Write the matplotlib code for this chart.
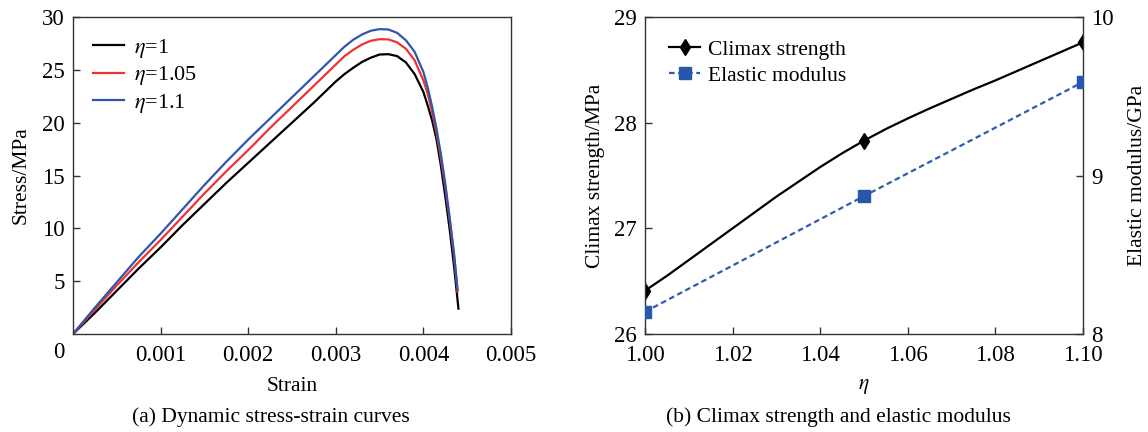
import matplotlib
matplotlib.use("Agg")
import matplotlib.pyplot as plt

plt.rcParams['font.family'] = ['Liberation Serif', 'DejaVu Serif']
plt.rcParams['mathtext.fontset'] = 'stix'
plt.rcParams['font.size'] = 15.5

# (a) dynamic stress-strain curves
strain = [0, 0.00025, 0.0005, 0.00075, 0.001, 0.00125, 0.0015, 0.00175, 0.002,
          0.00225, 0.0025, 0.00275, 0.003, 0.0031, 0.0032, 0.0033, 0.0034,
          0.0035, 0.0036, 0.0037, 0.0038, 0.0039, 0.004, 0.00405, 0.0041,
          0.00415, 0.0042, 0.00425, 0.0043, 0.00435]
stress_10 = [0, 2.0, 4.1, 6.2, 8.2, 10.3, 12.3, 14.3, 16.2, 18.1, 20.0, 21.9,
             23.9, 24.6, 25.2, 25.75, 26.15, 26.45, 26.48, 26.3, 25.7, 24.6,
             22.9, 21.6, 20.2, 18.4, 15.9, 13.0, 9.9, 6.4]
stress_105 = [0, 2.3, 4.6, 6.8, 8.9, 11.1, 13.3, 15.4, 17.4, 19.5, 21.5, 23.5,
              25.5, 26.3, 26.9, 27.4, 27.75, 27.9, 27.88, 27.6, 27.0, 25.9,
              24.0, 22.7, 21.0, 19.0, 16.6, 13.9, 10.8, 7.4]
stress_11 = [0, 2.5, 4.9, 7.3, 9.5, 11.8, 14.1, 16.3, 18.4, 20.4, 22.4, 24.4,
             26.4, 27.2, 27.85, 28.35, 28.7, 28.85, 28.82, 28.5, 27.8, 26.7,
             24.8, 23.3, 21.5, 19.4, 17.0, 14.2, 11.0, 7.6]
end_strain = [0.0044, 0.00439, 0.00439]
end_stress = [2.4, 4.0, 4.2]

# (b) climax strength and elastic modulus
eta = [1.00, 1.05, 1.10]
climax = [26.41, 27.83, 28.76]
modulus = [8.14, 8.87, 9.59]
# smoothed trend through the climax strength points
eta_trend = [1.00, 1.005, 1.01, 1.015, 1.02, 1.025, 1.03, 1.035, 1.04, 1.045,
             1.05, 1.055, 1.06, 1.065, 1.07, 1.075, 1.08, 1.085, 1.09, 1.095,
             1.10]
climax_trend = [26.41, 26.55, 26.70, 26.85, 27.00, 27.15, 27.30, 27.44, 27.58,
                27.71, 27.83, 27.94, 28.04, 28.135, 28.225, 28.315, 28.40,
                28.49, 28.58, 28.67, 28.76]

fig = plt.figure(figsize=(11.48, 4.32), dpi=100)
ax1 = fig.add_axes([73 / 1148, 98 / 432, 438 / 1148, 317 / 432])
ax2 = fig.add_axes([645 / 1148, 98 / 432, 438 / 1148, 317 / 432])

spine_c = '#333333'
for ax in (ax1, ax2):
    for s in ax.spines.values():
        s.set_color(spine_c)
        s.set_linewidth(1.0)

series = [(stress_10, 'black', r'$\eta$=1'),
          (stress_105, '#f23232', r'$\eta$=1.05'),
          (stress_11, '#3056ac', r'$\eta$=1.1')]
for i, (ys, col, lab) in enumerate(series):
    xs = strain + [end_strain[i]]
    ys = ys + [end_stress[i]]
    ax1.plot(xs, ys, color=col, lw=1.6, label=lab, solid_joinstyle='round')

ax1.set_xlim(0, 0.005)
ax1.set_ylim(0, 30)
ax1.set_xticks([0.001, 0.002, 0.003, 0.004, 0.005])
ax1.set_xticklabels(['0.001', '0.002', '0.003', '0.004', '0.005'],
                    fontsize=16.5)
ax1.set_yticks([5, 10, 15, 20, 25, 30])
ax1.set_yticklabels(['5', '10', '15', '20', '25', '30'], fontsize=16.5)
ax1.tick_params(direction='in', length=5, width=1, color=spine_c,
                top=False, right=False)
ax1.tick_params(axis='x', pad=8)
ax1.tick_params(axis='y', pad=6)
ax1.text(-0.032, -0.057, '0', transform=ax1.transAxes, ha='center',
         va='center', fontsize=16.5)
ax1.set_xlabel('Strain', labelpad=8)
ax1.set_ylabel('Stress/MPa', labelpad=8)
ax1.legend(loc='upper left', bbox_to_anchor=(0.025, 0.965), frameon=False,
           handlelength=1.4, handletextpad=0.45, labelspacing=0.2,
           borderaxespad=0.0, fontsize=16)

ax2.plot(eta_trend, climax_trend, color='black', lw=1.6, marker='d', ms=8,
         markevery=[0, 10, 20], label='Climax strength')
ax2.set_xlim(1.00, 1.10)
ax2.set_ylim(26, 29)
ax2.set_xticks([1.00, 1.02, 1.04, 1.06, 1.08, 1.10])
ax2.set_xticklabels(['1.00', '1.02', '1.04', '1.06', '1.08', '1.10'],
                    fontsize=16.5)
ax2.set_yticks([26, 27, 28, 29])
ax2.set_yticklabels(['26', '27', '28', '29'], fontsize=16.5)
ax2.tick_params(direction='in', length=5, width=1, color=spine_c,
                top=False, right=False)
ax2.tick_params(axis='x', pad=8)
ax2.tick_params(axis='y', pad=6)
ax2.set_xlabel(r'$\eta$', labelpad=8)
ax2.set_ylabel('Climax strength/MPa', labelpad=6)

ax3 = ax2.twinx()
for s in ax3.spines.values():
    s.set_visible(False)
ax3.plot(eta, modulus, color='#2a5db0', lw=1.6, ls=(0, (2.5, 1.6)),
         marker='s', ms=8, mfc='#2757ab', mec='#2757ab',
         label='Elastic modulus')
ax3.set_ylim(8, 10)
ax3.set_yticks([8, 9, 10])
ax3.set_yticklabels(['8', '9', '10'], fontsize=16.5)
ax3.tick_params(direction='in', length=5, width=1, color=spine_c, pad=6)
ax3.set_ylabel('Elastic modulus/GPa', labelpad=10)

h2, l2 = ax2.get_legend_handles_labels()
h3, l3 = ax3.get_legend_handles_labels()
ax3.legend(h2 + h3, l2 + l3, loc='upper left', bbox_to_anchor=(0.035, 0.955),
           frameon=False, handlelength=1.45, handletextpad=0.35,
           labelspacing=0.27, borderaxespad=0.0, fontsize=15.5)

fig.text(271 / 1148, 1 - 417 / 432, '(a) Dynamic stress-strain curves',
         ha='center', va='center', fontsize=15.5)
fig.text(838 / 1148, 1 - 417 / 432, '(b) Climax strength and elastic modulus',
         ha='center', va='center', fontsize=15.5)

fig.savefig('out.png', dpi=100)
